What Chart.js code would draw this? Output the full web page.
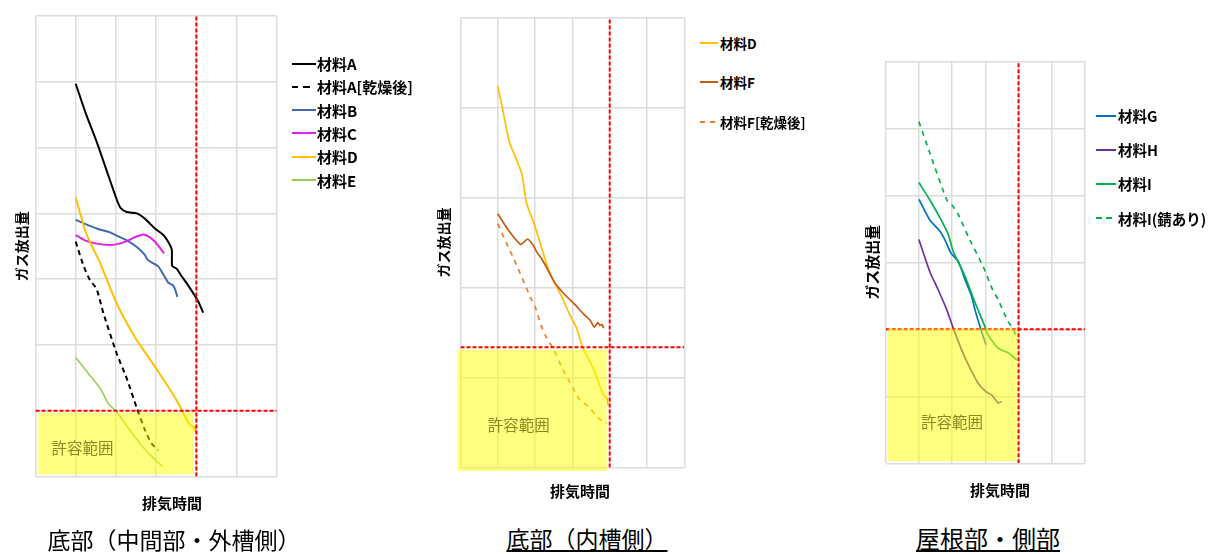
<!DOCTYPE html>
<html lang="ja">
<head>
<meta charset="utf-8">
<title>ガス放出量と排気時間</title>
<script src="https://cdn.jsdelivr.net/npm/chart.js@4.4.1/dist/chart.umd.min.js"></script>
<style>
  body { margin:0; width:1209px; height:554px; background:#fff; position:relative; overflow:hidden;
         font-family:"Noto Sans CJK JP", sans-serif; color:#000; }
  canvas { position:absolute; }
  .xtitle { position:absolute; font-weight:bold; font-size:15px; line-height:20px; transform:translateX(-50%); white-space:nowrap; }
  .caption { position:absolute; font-size:23px; line-height:28px; transform:translateX(-50%); white-space:nowrap; }
  .caption.u { text-decoration:underline; text-decoration-thickness:2px; text-underline-offset:2px; }
  .legend { position:absolute; font-weight:bold; }
  .legend .item { position:absolute; left:0; height:18px; display:flex; align-items:center; white-space:nowrap; }
  .legend svg { display:block; }
</style>
</head>
<body>
<canvas id="c1" width="300" height="500" style="left:0;top:0"></canvas>
<canvas id="c2" width="280" height="490" style="left:420px;top:0"></canvas>
<canvas id="c3" width="260" height="480" style="left:840px;top:0"></canvas>

<div class="xtitle" style="left:172px;top:493px">排気時間</div>
<div class="xtitle" style="left:580px;top:481px">排気時間</div>
<div class="xtitle" style="left:1000px;top:480px">排気時間</div>

<div class="caption" style="left:174px;top:525px">底部（中間部・外槽側）</div>
<div class="caption u" style="left:587px;top:524px">底部（内槽側）</div>
<div class="caption u" style="left:988px;top:524px;font-size:24px">屋根部・側部</div>

<script>
// axis ranges (x = 排気時間, y = ガス放出量), arbitrary units
const xRange = [0, 6];
const yRange1 = [0, 7];
const yRange2 = [0, 5];
const yRange3 = [0, 6];

// limit lines [x, y] and 許容範囲 boxes [x0, x1, y0, y1]
const limit1 = [4, 1];
const limit2 = [4, 1.336];
const limit3 = [4, 2];
const okBox1 = [0.07, 3.94, 0.03, 0.97];
const okBox2 = [-0.08, 3.92, -0.04, 1.31];
const okBox3 = [0.06, 3.96, 0.03, 2.01];

// 底部（中間部・外槽側）
const matA = [[1.0,5.97],[1.25,5.52],[1.52,5.09],[1.77,4.65],[1.94,4.35],[2.04,4.18],[2.12,4.08],[2.27,4.02],
  [2.52,4.0],[2.72,3.92],[2.97,3.77],[3.18,3.67],[3.3,3.57],[3.39,3.45],[3.40,3.20],[3.51,3.16],[3.64,3.04],
  [3.76,2.94],[3.93,2.78],[4.05,2.66],[4.17,2.49]];
const matADry = [[1.0,3.57],[1.19,3.21],[1.35,2.99],[1.52,2.85],[1.69,2.48],[2.02,1.87],[2.27,1.49],[2.52,1.04],
  [2.72,0.71],[2.89,0.50],[3.05,0.40]];
const matB = [[1.0,3.90],[1.23,3.84],[1.52,3.77],[1.85,3.71],[2.06,3.65],[2.27,3.59],[2.52,3.49],[2.72,3.37],
  [2.78,3.30],[2.93,3.24],[3.06,3.19],[3.14,3.11],[3.22,3.03],[3.3,2.95],[3.41,2.91],[3.47,2.85],[3.53,2.73]];
const matC = [[1.0,3.67],[1.23,3.59],[1.52,3.54],[1.85,3.52],[2.1,3.54],[2.31,3.59],[2.48,3.64],[2.68,3.68],
  [2.81,3.65],[2.97,3.57],[3.1,3.47],[3.2,3.39]];
const matD1 = [[1.0,4.24],[1.23,3.75],[1.35,3.57],[1.6,3.26],[1.81,2.94],[2.02,2.63],[2.23,2.38],[2.52,2.07],
  [2.77,1.85],[2.97,1.67],[3.22,1.44],[3.43,1.24],[3.6,1.06],[3.7,0.93],[3.85,0.78],[3.95,0.75],[3.98,0.68]];
const matE = [[1.0,1.81],[1.31,1.57],[1.62,1.33],[1.81,1.11],[2.02,0.98],[2.27,0.77],[2.6,0.50],[2.85,0.33],[3.16,0.15]];

// 底部（内槽側）
const matD2 = [[1.0,4.24],[1.15,3.94],[1.31,3.62],[1.64,3.27],[1.77,2.94],[2.0,2.68],[2.19,2.42],[2.37,2.19],
  [2.49,2.08],[2.71,1.90],[2.94,1.69],[3.11,1.55],[3.29,1.32],[3.43,1.21],[3.61,1.05],[3.74,0.90],[3.86,0.79],
  [3.92,0.78],[3.96,0.69]];
const matF = [[1.0,2.82],[1.28,2.64],[1.61,2.48],[1.8,2.54],[1.95,2.47],[2.04,2.40],[2.22,2.29],[2.35,2.19],
  [2.53,2.05],[2.8,1.92],[3.07,1.81],[3.29,1.71],[3.47,1.64],[3.59,1.56],[3.68,1.61],[3.74,1.58],[3.79,1.59],[3.84,1.55]];
const matFDry = [[1.0,2.71],[1.28,2.45],[1.44,2.31],[1.91,1.86],[2.0,1.79],[2.16,1.58],[2.31,1.44],[2.49,1.32],
  [2.71,1.12],[2.94,0.94],[3.2,0.75],[3.43,0.68],[3.69,0.55],[3.92,0.49]];

// 屋根部・側部
const matG = [[1.0,3.94],[1.33,3.63],[1.64,3.46],[1.81,3.31],[1.96,3.14],[2.19,3.01],[2.39,2.74],[2.59,2.49],
  [2.69,2.29],[2.84,2.04],[3.02,1.77]];
const matH = [[1.0,3.34],[1.33,2.86],[1.58,2.59],[1.84,2.29],[2.04,2.01],[2.29,1.69],[2.54,1.42],[2.79,1.19],
  [3.02,1.07],[3.19,1.02],[3.39,0.90],[3.49,0.92]];
const matI = [[1.0,4.19],[1.33,3.93],[1.64,3.66],[1.89,3.41],[2.02,3.18],[2.16,3.03],[2.39,2.79],[2.62,2.49],
  [2.74,2.34],[2.99,2.04],[3.04,1.95],[3.34,1.74],[3.49,1.69],[3.69,1.65],[3.84,1.59],[3.95,1.54]];
const matIRust = [[1.0,5.10],[1.33,4.63],[1.84,3.93],[1.99,3.86],[2.19,3.71],[2.49,3.38],[2.94,2.93],[3.22,2.59],
  [3.39,2.44],[3.69,2.11],[3.84,2.01],[3.96,1.84]];

const FONT = '"Noto Sans CJK JP", sans-serif';
Chart.defaults.font.family = FONT;
Chart.defaults.color = '#000';

const pts = arr => arr.map(([x, y]) => ({x, y}));

function series(label, data, color, width, dash, i) {
  return {
    label, data: pts(data), showLine: true,
    borderColor: color, backgroundColor: color, borderWidth: width, borderDash: dash || [],
    pointRadius: 0, tension: 0.2, fill: false, order: -i
  };
}

// red dashed limit lines, drawn on top of the series
function limitLines(lim, yRange) {
  const common = { showLine: true, borderColor: '#ff0000', borderWidth: 2, borderDash: [4, 2],
                   pointRadius: 0, isLimit: true, order: -99 };
  return [
    { ...common, data: [{x: lim[0], y: yRange[0]}, {x: lim[0], y: yRange[1]}] },
    { ...common, data: [{x: xRange[0], y: lim[1]}, {x: xRange[1], y: lim[1]}] }
  ];
}

// translucent yellow 許容範囲 box
const okZonePlugin = {
  id: 'okZone',
  afterDatasetsDraw(chart, args, opts) {
    const {ctx, scales: {x, y}} = chart;
    const [x0, x1, y0, y1] = opts.box;
    const left = x.getPixelForValue(x0), right = x.getPixelForValue(x1);
    const top = y.getPixelForValue(y1), bottom = y.getPixelForValue(y0);
    ctx.save();
    ctx.fillStyle = 'rgba(255,255,0,0.5)';
    ctx.fillRect(left, top, right - left, bottom - top);
    ctx.fillStyle = '#8a8a22';
    ctx.font = opts.fontSize + 'px ' + FONT;
    ctx.textAlign = 'center';
    ctx.textBaseline = 'middle';
    ctx.fillText(opts.text, x.getPixelForValue(opts.at[0]), y.getPixelForValue(opts.at[1]));
    ctx.restore();
  }
};

function makeChart(id, datasets, yRange, lim, box, textAt, pad, title) {
  const grid = { color: '#dcdcdc', lineWidth: 1.5, drawTicks: false };
  return new Chart(document.getElementById(id), {
    type: 'scatter',
    data: { datasets: [...datasets, ...limitLines(lim, yRange)] },
    options: {
      responsive: false,
      animation: false,
      layout: { padding: pad },
      plugins: {
        legend: { display: false },
        tooltip: { enabled: false },
        okZone: { box, text: '許容範囲', at: textAt, fontSize: 15.5 }
      },
      scales: {
        x: { type: 'linear', min: xRange[0], max: xRange[1],
             ticks: { display: false, stepSize: 1 }, grid, border: { display: false } },
        y: { type: 'linear', min: yRange[0], max: yRange[1],
             ticks: { display: false, stepSize: 1 }, grid, border: { display: false },
             title: { display: true, text: 'ガス放出量', color: '#000',
                      font: { size: title.size, weight: 'bold' },
                      padding: { top: 4, bottom: title.gap } } }
      }
    },
    plugins: [okZonePlugin]
  });
}

// HTML legend built from the chart's own datasets
function drawLegend(chart, cfg) {
  const box = document.createElement('div');
  box.className = 'legend';
  box.style.left = cfg.left + 'px';
  box.style.top = cfg.top + 'px';
  box.style.fontSize = cfg.fontSize + 'px';
  chart.data.datasets.filter(d => !d.isLimit).forEach((d, i) => {
    const row = document.createElement('div');
    row.className = 'item';
    row.style.top = (i * cfg.step - 9) + 'px';
    const dash = d.borderDash.length ? cfg.dash : 'none';
    row.innerHTML = `<svg width="${cfg.lineLen}" height="4"><line x1="0" y1="2" x2="${cfg.lineLen}" y2="2" ` +
      `stroke="${d.borderColor}" stroke-width="2" stroke-dasharray="${dash}"/></svg>` +
      `<span style="margin-left:${cfg.gap}px">${d.label}</span>`;
    box.appendChild(row);
  });
  document.body.appendChild(box);
}

const chart1 = makeChart('c1', [
  series('材料A', matA, '#000000', 2, null, 0),
  series('材料A[乾燥後]', matADry, '#000000', 2, [5, 4], 1),
  series('材料B', matB, '#4169b0', 2, null, 2),
  series('材料C', matC, '#dd22e8', 2, null, 3),
  series('材料D', matD1, '#ffc000', 2, null, 4),
  series('材料E', matE, '#92d050', 1.5, null, 5)
], yRange1, limit1, okBox1, [1.17, 0.43], { left: 9.3, top: 16, right: 23.3, bottom: 23.5 }, { size: 14, gap: 5.4 });

const chart2 = makeChart('c2', [
  series('材料D', matD2, '#ffc000', 1.7, null, 0),
  series('材料F', matF, '#c55a11', 1.7, null, 1),
  series('材料F[乾燥後]', matFDry, '#ed7d31', 1.7, [5, 5], 2)
], yRange2, limit2, okBox2, [1.56, 0.47], { left: 11.6, top: 17.7, right: 15.7, bottom: 22.5 }, { size: 14, gap: 8.1 });

const chart3 = makeChart('c3', [
  series('材料G', matG, '#0070c0', 1.7, null, 0),
  series('材料H', matH, '#7030a0', 1.7, null, 1),
  series('材料I', matI, '#00b050', 1.7, null, 2),
  series('材料I(錆あり)', matIRust, '#00b050', 1.7, [5, 5], 3)
], yRange3, limit3, okBox3, [2.0, 0.61], { left: 19.5, top: 61.3, right: 15.1, bottom: 16.7 }, { size: 15, gap: 4.2 });

drawLegend(chart1, { left: 292, top: 63.5, step: 23.3, lineLen: 24, gap: 1, fontSize: 15, dash: '6 5 7 6' });
drawLegend(chart2, { left: 700, top: 42.5, step: 39.8, lineLen: 18, gap: 2, fontSize: 13.5, dash: '5 5' });
drawLegend(chart3, { left: 1096, top: 115.5, step: 34.2, lineLen: 20, gap: 2, fontSize: 14.5, dash: '6 4' });
</script>
</body>
</html>
